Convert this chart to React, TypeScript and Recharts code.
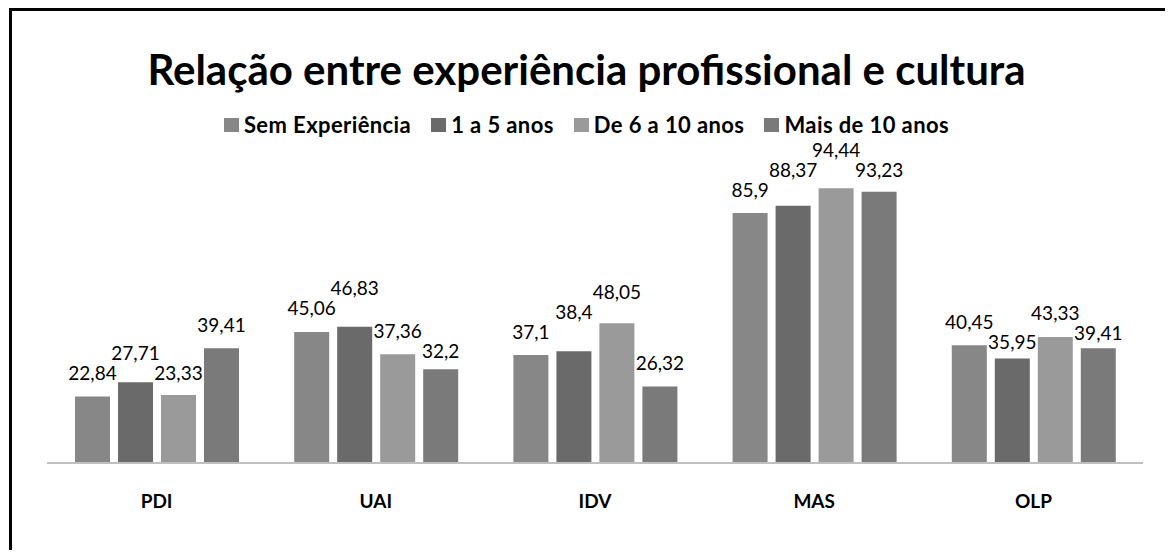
import React from "react";
import { BarChart, Bar, XAxis, YAxis, LabelList } from "recharts";

const categories = ["PDI", "UAI", "IDV", "MAS", "OLP"];
const seriesNames = ["Sem Experiência", "1 a 5 anos", "De 6 a 10 anos", "Mais de 10 anos"];
const semExperiencia = [22.84, 45.06, 37.1, 85.9, 40.45];
const umACinco = [27.71, 46.83, 38.4, 88.37, 35.95];
const seisADez = [23.33, 37.36, 48.05, 94.44, 43.33];
const maisDeDez = [39.41, 32.2, 26.32, 93.23, 39.41];

const seriesValues = [semExperiencia, umACinco, seisADez, maisDeDez];
const colors = ["#878787", "#6a6a6a", "#9a9a9a", "#7a7a7a"];
const keys = ["s0", "s1", "s2", "s3"];

const data = categories.map((cat, i) => {
  const row: Record<string, string | number> = { cat };
  seriesValues.forEach((vals, s) => {
    row[keys[s]] = vals[i];
  });
  return row;
});

const FONT = "Lato, 'Open Sans', sans-serif";
const LABEL_GAP = 24;
const STEP = 20;

const fmt = (v: number) => String(v).replace(".", ",");

// labels are staggered inside a group so neighbours don't collide
const labelY = (series: number, index: number, baseline: number, ppu: number) => {
  let prev = 0;
  let cy = 0;
  for (let j = 0; j <= series; j++) {
    const top = baseline - seriesValues[j][index] * ppu;
    cy = top - LABEL_GAP;
    if (j > 0 && Math.abs(cy - prev) < STEP) {
      if (cy > prev && prev + STEP <= top - 10) cy = prev + STEP;
      else cy = prev - STEP;
    }
    prev = cy;
  }
  return cy;
};

const makeLabel = (series: number) => (props: any) => {
  const { x, y, width, height, value, index } = props;
  const baseline = y + height;
  const ppu = height / value;
  return (
    <text
      x={x + width / 2}
      y={labelY(series, index, baseline, ppu)}
      textAnchor="middle"
      dominantBaseline="central"
      fontFamily={FONT}
      fontSize={19}
      fill="#000"
    >
      {fmt(value)}
    </text>
  );
};

export default function App() {
  return (
    <div style={{ position: "relative", width: 1173, height: 558, overflow: "hidden", margin: -8, background: "#fff" }}>
      <div
        style={{
          position: "absolute",
          left: 9,
          top: 8,
          width: 1300,
          height: 700,
          borderLeft: "3px solid #000",
          borderTop: "3px solid #000",
        }}
      />
      <div
        style={{
          position: "absolute",
          left: 0,
          top: 44,
          width: 1173,
          textAlign: "center",
          fontFamily: FONT,
          fontWeight: 700,
          fontSize: 42,
          lineHeight: 1.2,
          color: "#000",
        }}
      >
        Relação entre experiência profissional e cultura
      </div>
      <div
        style={{
          position: "absolute",
          left: 0,
          top: 112,
          width: 1173,
          display: "flex",
          justifyContent: "center",
          fontFamily: FONT,
          fontWeight: 700,
          fontSize: 22,
          letterSpacing: 0.4,
          lineHeight: 1.2,
          color: "#000",
        }}
      >
        {seriesNames.map((name, i) => (
          <div key={name} style={{ display: "flex", alignItems: "center", marginRight: i < 3 ? 20 : 0 }}>
            <span style={{ display: "inline-block", width: 15, height: 14, background: colors[i], marginRight: 5 }} />
            <span>{name}</span>
          </div>
        ))}
      </div>
      <div style={{ position: "absolute", left: 0, top: 0 }}>
        <BarChart
          width={1173}
          height={558}
          data={data}
          margin={{ top: 172, right: 30, bottom: 55, left: 47 }}
          barSize={35}
          barGap={8}
        >
          <YAxis hide domain={[0, 100]} />
          <XAxis
            dataKey="cat"
            height={40}
            axisLine={{ stroke: "#bfbfbf", strokeWidth: 2 }}
            tickLine={false}
            tickMargin={26}
            tick={{ fontFamily: FONT, fontWeight: 700, fontSize: 19, fill: "#000" }}
          />
          {keys.map((k, i) => (
            <Bar key={k} dataKey={k} name={seriesNames[i]} fill={colors[i]} isAnimationActive={false}>
              <LabelList dataKey={k} content={makeLabel(i)} />
            </Bar>
          ))}
        </BarChart>
      </div>
    </div>
  );
}
